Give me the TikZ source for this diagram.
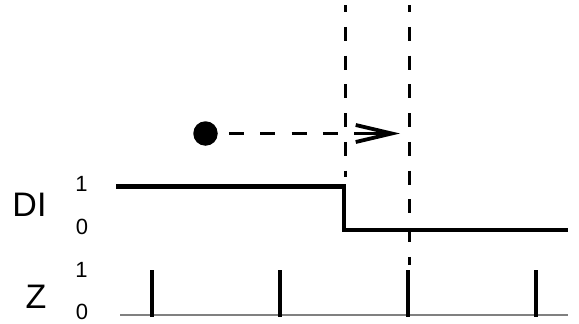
\documentclass[tikz,border=0pt]{standalone}
\usepackage{fontspec}
\setmainfont{Liberation Sans}
\usetikzlibrary{arrows.meta}
\begin{document}
\begin{tikzpicture}[x=1pt,y=-1pt,
  sig/.style={line width=4.4pt},
  pulse/.style={line width=4pt},
  guide/.style={line width=3pt, dash pattern=on 14pt off 14.75pt, dash phase=7pt},
  lbl/.style={font=\fontsize{34}{34}\selectfont, inner sep=0pt},
  lvl/.style={font=\fontsize{22}{22}\selectfont, inner sep=0pt},
  baseln/.style={line width=2pt, draw=black!50},
  dotnode/.style={circle, fill=black, minimum size=24.5pt, inner sep=0pt}]
\useasboundingbox (0,0) rectangle (579,324);
% labels
\node[lbl] (DI) at (29.5,204.5) {DI};
\node[lbl] (Z) at (36,296.5) {Z};
\node[lvl] (di1) at (81.5,184) {1};
\node[lvl] (di0) at (82,227) {0};
\node[lvl] (z1) at (81.5,270) {1};
\node[lvl] (z0) at (82,311.5) {0};
% guides
\coordinate (g1t) at (345,5);
\coordinate (g1b) at (345,177);
\coordinate (g2t) at (409,5);
\coordinate (g2b) at (409,265);
\draw[guide] (g1t) -- (g1b);
\draw[guide] (g2t) -- (g2b);
% DI signal
\coordinate (s0) at (116,186.5);
\coordinate (s1) at (344,186.5);
\coordinate (s2) at (344,230);
\coordinate (s3) at (568,230);
\draw[sig] (s0) -- (s1) -- (s2) -- (s3);
% Z baseline and pulses
\coordinate (b0) at (120,314.5);
\coordinate (b1) at (568,314.5);
\draw[baseln] (b0) -- (b1);
\foreach \px [count=\i] in {152,280,408,536} {
  \coordinate (p\i t) at (\px,270);
  \coordinate (p\i b) at (\px,316.7);
  \draw[pulse] (p\i t) -- (p\i b);
}
% dot and arrow
\node[dotnode] (dot) at (205.5,133.5) {};
\coordinate (tip) at (400,133.5);
\draw[line width=3.8pt,
  dash pattern=on 15pt off 16.3pt on 15pt off 16.3pt on 15pt off 16.3pt on 15pt off 16.3pt on 100pt off 1pt,
  shorten <=11pt, -{Straight Barb[length=36pt,width=17pt]}] (dot) -- (tip);
\end{tikzpicture}
\end{document}
